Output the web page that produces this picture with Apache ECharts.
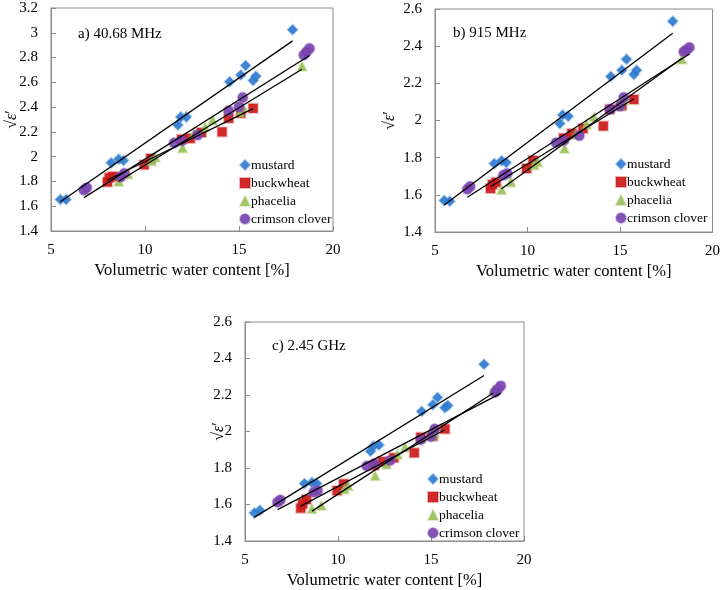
<!DOCTYPE html>
<html>
<head>
<meta charset="utf-8">
<script src="https://cdn.jsdelivr.net/npm/echarts@6/dist/echarts.min.js"></script>
<style>
  html, body { margin: 0; padding: 0; background: #fff; }
  #chart { width: 723px; height: 590px; }
</style>
</head>
<body>
<div id="chart"></div>
<script>
// shared sample moisture (x) per cover crop
const mustardX   = [5.5, 5.8, 8.2, 8.6, 8.85, 11.75, 11.9, 12.2, 14.5, 15.1, 15.35, 15.75, 15.9, 17.85];
const buckwheatX = [8.0, 8.1, 8.3, 9.95, 10.3, 11.95, 12.4, 13.0, 14.1, 14.45, 15.1, 15.75];
const phaceliaX  = [8.6, 9.1, 10.35, 10.55, 12.0, 12.6, 13.2, 13.6, 15.05, 15.2, 18.35];
const cloverX    = [6.75, 6.9, 8.7, 8.9, 11.55, 11.95, 12.8, 14.45, 15.0, 15.2, 18.45, 18.6, 18.75];

// sqrt(eps') at 40.68 MHz
const mustardA   = [1.655, 1.655, 1.95, 1.98, 1.97, 2.255, 2.32, 2.32, 2.605, 2.66, 2.735, 2.615, 2.65, 3.025];
const buckwheatA = [1.795, 1.83, 1.84, 1.935, 1.985, 2.14, 2.147, 2.195, 2.20, 2.31, 2.35, 2.39];
const phaceliaA  = [1.80, 1.86, 1.965, 1.995, 2.07, 2.19, 2.24, 2.295, 2.357, 2.40, 2.73];
const cloverA    = [1.73, 1.75, 1.835, 1.865, 2.11, 2.128, 2.174, 2.37, 2.40, 2.478, 2.82, 2.846, 2.873];

// 915 MHz
const mustardB   = [1.57, 1.565, 1.768, 1.783, 1.774, 1.984, 2.03, 2.023, 2.237, 2.271, 2.33, 2.248, 2.271, 2.534];
const buckwheatB = [1.634, 1.655, 1.668, 1.742, 1.785, 1.905, 1.93, 1.957, 1.97, 2.06, 2.08, 2.113];
const phaceliaB  = [1.628, 1.669, 1.76, 1.777, 1.85, 1.925, 1.98, 2.02, 2.08, 2.11, 2.33];
const cloverB    = [1.63, 1.645, 1.705, 1.715, 1.88, 1.893, 1.918, 2.06, 2.077, 2.124, 2.37, 2.38, 2.393];

// 2.45 GHz
const mustardC   = [1.553, 1.568, 1.715, 1.721, 1.715, 1.892, 1.919, 1.926, 2.11, 2.146, 2.186, 2.13, 2.143, 2.369];
const buckwheatC = [1.58, 1.604, 1.627, 1.676, 1.713, 1.815, 1.835, 1.856, 1.883, 1.968, 1.975, 2.014];
const phaceliaC  = [1.577, 1.595, 1.685, 1.703, 1.757, 1.82, 1.874, 1.914, 1.975, 1.99, 2.23];
const cloverC    = [1.613, 1.625, 1.667, 1.676, 1.811, 1.823, 1.841, 1.955, 1.973, 2.014, 2.215, 2.232, 2.25];

const seriesNames = ['mustard', 'buckwheat', 'phacelia', 'crimson clover'];
const panelTitles = ['a) 40.68 MHz', 'b) 915 MHz', 'c) 2.45 GHz'];
const yMax = [3.2, 2.6, 2.6];

const font = 'Liberation Serif, Times New Roman, serif';
const colors = ['#2e7bcf', '#cc1818', '#9bc25a', '#7b44b0'];
const symbols = ['diamond', 'rect', 'triangle', 'circle'];
const sizes = [10, 9, 9, 10];

const xs = [mustardX, buckwheatX, phaceliaX, cloverX];
const panels = [
    [mustardA, buckwheatA, phaceliaA, cloverA],
    [mustardB, buckwheatB, phaceliaB, cloverB],
    [mustardC, buckwheatC, phaceliaC, cloverC]
];

// panel layout (pixels)
const grids = [
    { left: 51, top: 8, width: 282, height: 223 },
    { left: 435, top: 9, width: 282, height: 223 },
    { left: 245, top: 322, width: 279, height: 222 }
];
const yNameGap = [31, 37, 18];
const legendPos = [
    { left: 234, top: 153 },
    { left: 610, top: 152 },
    { left: 422, top: 467 }
];
const titlePos = [
    { left: 78, top: 27 },
    { left: 453, top: 26 },
    { left: 272, top: 339 }
];

function linearFit(x, y) {
    const n = x.length;
    let sx = 0, sy = 0, sxx = 0, sxy = 0;
    for (let i = 0; i < n; i++) {
        sx += x[i]; sy += y[i]; sxx += x[i] * x[i]; sxy += x[i] * y[i];
    }
    const b = (n * sxy - sx * sy) / (n * sxx - sx * sx);
    const a = (sy - b * sx) / n;
    const x0 = Math.min(...x), x1 = Math.max(...x);
    return [[x0, a + b * x0], [x1, a + b * x1]];
}

const chart = echarts.init(document.getElementById('chart'), null, { renderer: 'canvas' });

const option = {
    animation: false,
    backgroundColor: '#fff',
    textStyle: { fontFamily: font },
    grid: grids.map(g => Object.assign({ show: true, borderColor: '#8c8c8c', borderWidth: 1, containLabel: false }, g)),
    title: panelTitles.map((t, i) => Object.assign({
        text: t,
        padding: 0,
        textStyle: { fontFamily: font, fontSize: 15, fontWeight: 'normal', color: '#000' }
    }, titlePos[i])),
    legend: panelTitles.map((t, i) => Object.assign({
        orient: 'vertical',
        data: seriesNames,
        itemWidth: 10,
        itemHeight: 10,
        itemGap: 4,
        selectedMode: false,
        textStyle: { fontFamily: font, fontSize: 13.5, color: '#000', padding: [0, 0, 0, -4] }
    }, legendPos[i])),
    xAxis: panelTitles.map((t, i) => ({
        gridIndex: i,
        type: 'value',
        min: 5, max: 20, interval: 5,
        name: 'Volumetric water content [%]',
        nameLocation: 'middle',
        nameGap: 31,
        nameMoveOverlap: false,
        nameTextStyle: { fontFamily: font, fontSize: 16.5, color: '#000' },
        axisLine: { lineStyle: { color: '#8c8c8c' } },
        axisTick: { show: true, inside: true, length: 5, lineStyle: { color: '#8c8c8c' } },
        axisLabel: { fontFamily: font, fontSize: 15, color: '#000', margin: 12 },
        splitLine: { show: false }
    })),
    yAxis: panelTitles.map((t, i) => ({
        gridIndex: i,
        type: 'value',
        min: 1.4, max: yMax[i], interval: 0.2,
        name: '{r|√}{e|ε}{r|′}',
        nameLocation: 'middle',
        nameRotate: 90,
        nameGap: yNameGap[i],
        nameMoveOverlap: false,
        nameTextStyle: {
            fontFamily: font, fontSize: 16, color: '#000',
            rich: {
                r: { fontFamily: font, fontSize: 16, color: '#000' },
                e: { fontFamily: font, fontSize: 16, color: '#000', fontStyle: 'italic' }
            }
        },
        axisLine: { show: true, lineStyle: { color: '#8c8c8c' } },
        axisTick: { show: true, inside: true, length: 5, lineStyle: { color: '#8c8c8c' } },
        axisLabel: { fontFamily: font, fontSize: 15, color: '#000', margin: 13 },
        splitLine: { show: false }
    })),
    series: []
};

panels.forEach((ys, p) => {
    ys.forEach((yv, s) => {
        option.series.push({
            name: seriesNames[s],
            type: 'scatter',
            xAxisIndex: p,
            yAxisIndex: p,
            symbol: symbols[s],
            symbolSize: sizes[s],
            itemStyle: {
                color: colors[s],
                opacity: 0.92,
                borderColor: echarts.color.modifyAlpha(colors[s], 0.35),
                borderWidth: 2
            },
            data: xs[s].map((x, k) => [x, yv[k]]),
            z: 2
        });
    });
    ys.forEach((yv, s) => {
        option.series.push({
            name: 'fit ' + seriesNames[s],
            type: 'line',
            xAxisIndex: p,
            yAxisIndex: p,
            showSymbol: false,
            symbol: 'none',
            lineStyle: { color: '#000', width: 1.3 },
            data: linearFit(xs[s], yv),
            z: 3,
            silent: true
        });
    });
});

chart.setOption(option);
</script>
</body>
</html>
